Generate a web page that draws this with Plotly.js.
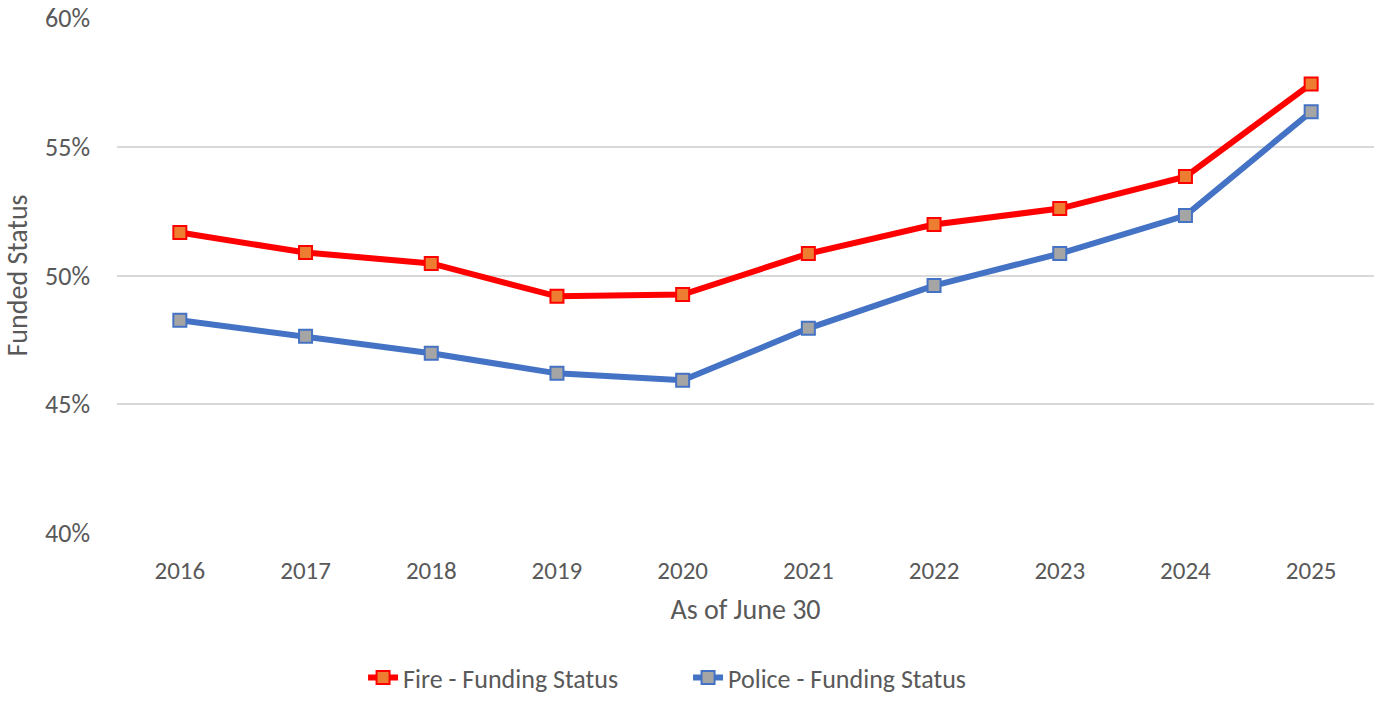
<!DOCTYPE html>
<html>
<head>
<meta charset="utf-8">
<script src="https://cdn.plot.ly/plotly-3.0.1.min.js"></script>
<style>html,body{margin:0;padding:0;background:#fff;}#chart{width:1376px;height:702px;}</style>
</head>
<body>
<div id="chart"></div>
<script>
const years = ["2016","2017","2018","2019","2020","2021","2022","2023","2024","2025"];
const fireFunding = [51.67, 50.89, 50.47, 49.19, 49.26, 50.85, 51.98, 52.60, 53.84, 57.44];
const policeFunding = [48.26, 47.64, 46.98, 46.20, 45.93, 47.95, 49.61, 50.85, 52.33, 56.36];
const yTicks = [40, 45, 50, 55, 60];

const fontFam = "Carlito, Calibri, Lato, 'Open Sans', 'Noto Sans', sans-serif";
const traces = [
  {
    x: years, y: fireFunding, name: "Fire - Funding Status", type: "scatter", mode: "lines+markers",
    line: {color: "#FF0000", width: 6},
    marker: {symbol: "square", size: 13, color: "#ED7D31", line: {color: "#FF0000", width: 2}}
  },
  {
    x: years, y: policeFunding, name: "Police - Funding Status", type: "scatter", mode: "lines+markers",
    line: {color: "#4472C4", width: 6},
    marker: {symbol: "square", size: 13, color: "#A5A5A5", line: {color: "#4472C4", width: 2}}
  }
];
const layout = {
  width: 1376, height: 702,
  paper_bgcolor: "#fff", plot_bgcolor: "#fff",
  margin: {l: 117, r: 2, t: 18, b: 168},
  font: {family: fontFam, color: "#595959", size: 25},
  showlegend: true,
  legend: {orientation: "h", x: 0.4543, xanchor: "center", xref: "paper", y: -0.324, yanchor: "bottom", font: {size: 26, color: "#595959"}, tracegroupgap: 0, entrywidth: 280, entrywidthmode: "pixels"},
  xaxis: {
    type: "category", range: [-0.5, 9.5], showgrid: false, zeroline: false, showline: false,
    ticks: "", ticklabelstandoff: 20, tickfont: {size: 25, color: "#595959"},
    title: {text: "As of June 30", font: {size: 28, color: "#595959"}, standoff: 14}
  },
  yaxis: {
    range: [40, 60], tickvals: yTicks, ticktext: yTicks.map(v => v + "%"),
    showgrid: true, gridcolor: "#D9D9D9", gridwidth: 2, zeroline: false, showline: false,
    ticks: "", ticklabelstandoff: 26, tickfont: {size: 26, color: "#595959"},
    title: {text: "Funded Status", font: {size: 28, color: "#595959"}, standoff: 14}
  }
};
Plotly.newPlot("chart", traces, layout, {displayModeBar: false});
</script>
</body>
</html>
